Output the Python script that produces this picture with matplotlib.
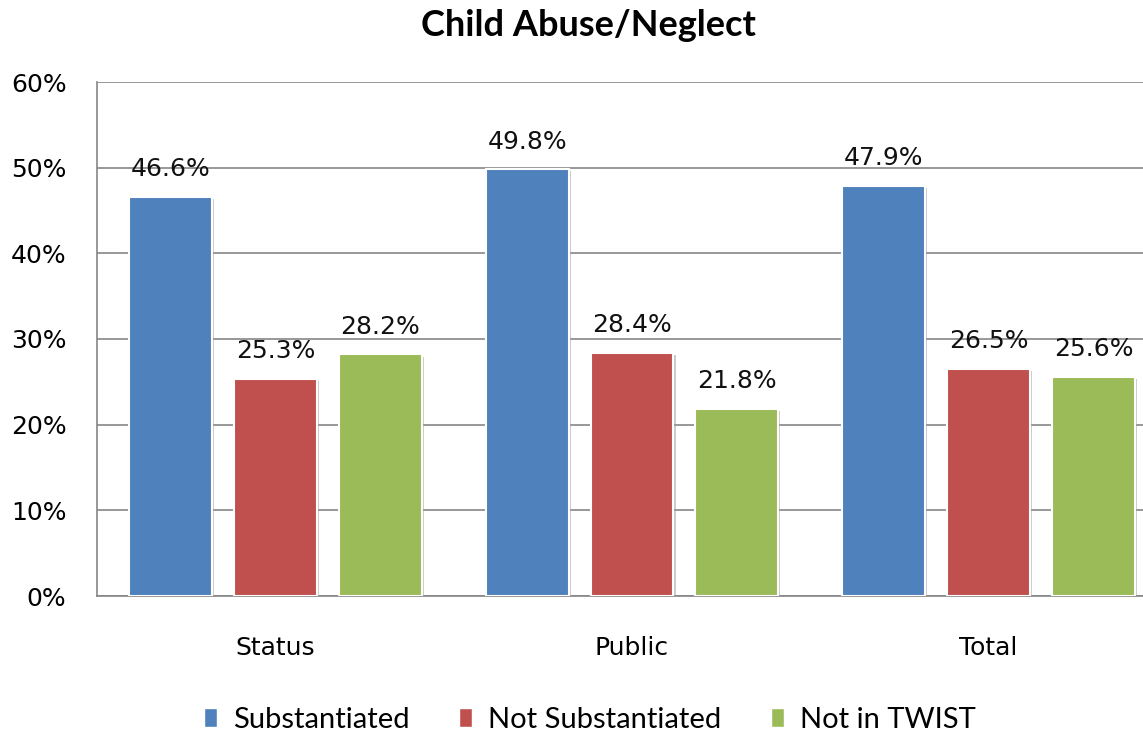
import matplotlib.pyplot as plt
import matplotlib.patheffects as pe
import numpy as np
from matplotlib.patches import Patch

categories = ['Status', 'Public', 'Total']
series_names = ['Substantiated', 'Not Substantiated', 'Not in TWIST']
substantiated = [46.6, 49.8, 47.9]
not_substantiated = [25.3, 28.4, 26.5]
not_in_twist = [28.2, 21.8, 25.6]
y_ticks = [0, 10, 20, 30, 40, 50, 60]

colors = ['#4F81BD', '#C0504D', '#9BBB59']
series = [substantiated, not_substantiated, not_in_twist]

fig = plt.figure(figsize=(11.43, 7.37), dpi=100)
# plot area runs past the right edge of the picture, as in the original
ax = fig.add_axes([97 / 1143, 141 / 737, 1070 / 1143, 514 / 737])

x = np.arange(len(categories))
bar_w = 83 / 357
step = 105 / 357
shadow = [pe.SimplePatchShadow(offset=(1.5, -1.5), shadow_rgbFace='#999999', alpha=0.5), pe.Normal()]

for i, (vals, col) in enumerate(zip(series, colors)):
    bars = ax.bar(x + (i - 1) * step, vals, width=bar_w, color=col,
                  edgecolor='white', linewidth=1.5, zorder=3)
    for b in bars:
        b.set_path_effects(shadow)
    for b, v in zip(bars, vals):
        ax.annotate(f'{v:.1f}%', (b.get_x() + b.get_width() / 2, v),
                    xytext=(0, 20), textcoords='offset points',
                    ha='center', va='center', fontsize=18, color='#111111')

ax.set_xlim(-0.5, 2.5)
ax.set_ylim(0, 60)
ax.set_yticks(y_ticks)
ax.set_yticklabels([f'{t}%' for t in y_ticks], fontsize=18)
ax.set_xticks(x)
ax.set_xticklabels(categories, fontsize=18)
ax.tick_params(axis='y', length=0, pad=22)
ax.tick_params(axis='x', length=0, pad=29)
ax.grid(axis='y', color='#868686', linewidth=1.2, zorder=0)
ax.set_axisbelow(True)
for s in ['top', 'right']:
    ax.spines[s].set_visible(False)
for s in ['left', 'bottom']:
    ax.spines[s].set_color('#868686')
    ax.spines[s].set_linewidth(1.2)

fig.text(588 / 1143, 1 - 26 / 737, 'Child Abuse/Neglect', ha='center', va='center',
         fontsize=26, fontweight='bold', family='Lato')

handles = [Patch(facecolor=c, edgecolor='white', label=n) for c, n in zip(colors, series_names)]
fig.legend(handles=handles, loc='center', bbox_to_anchor=(590 / 1143, 1 - 720 / 737),
           ncol=3, frameon=False, prop={'family': 'Lato', 'size': 21},
           handlelength=0.45, handleheight=0.65, handletextpad=0.55, columnspacing=1.7)

fig.savefig('out.png', dpi=100)
